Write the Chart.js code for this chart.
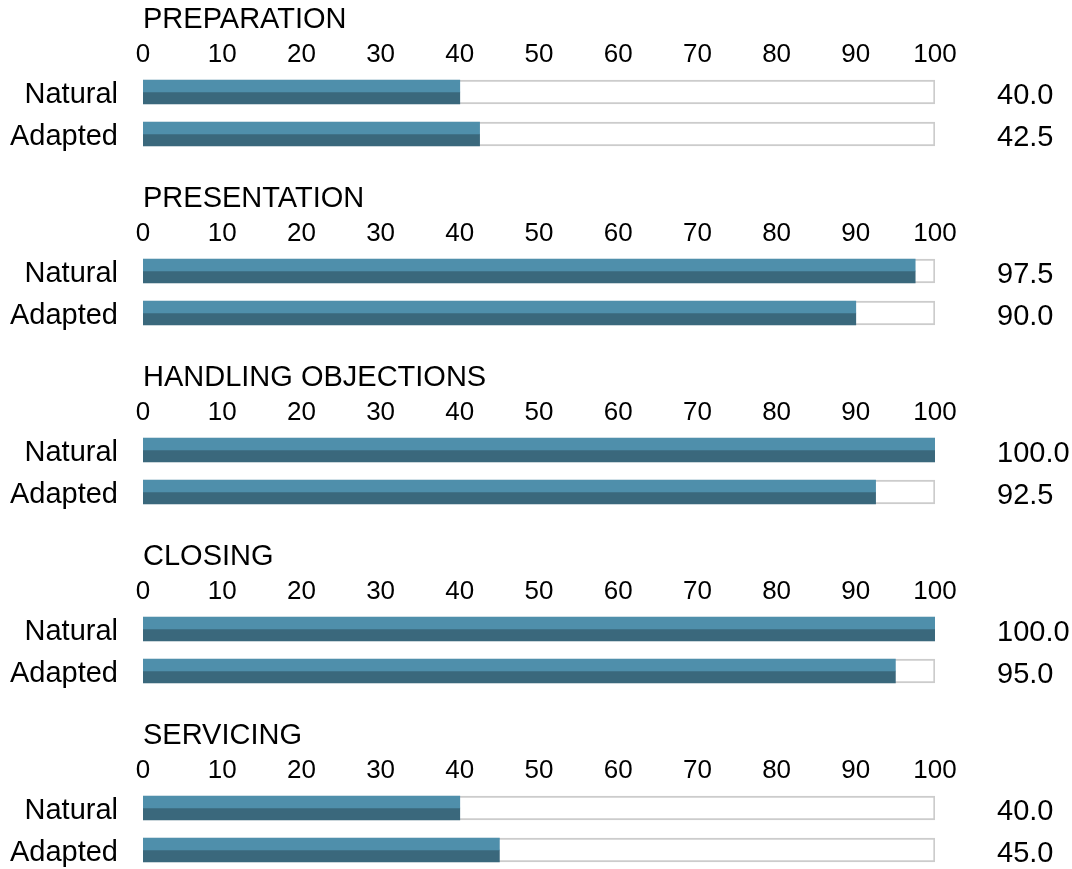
<!DOCTYPE html>
<html>
<head>
<meta charset="utf-8">
<script src="https://cdn.jsdelivr.net/npm/chart.js@4"></script>
<style>
    html, body { margin:0; padding:0; background:#ffffff; }
    #wrap { width:1072px; height:869px; overflow:hidden; }
    .panel { width:1072px; height:179px; }
    canvas { display:block; }
</style>
</head>
<body>
<div id="wrap"></div>

<script>
// Score data per selling stage
var sections = ["PREPARATION", "PRESENTATION", "HANDLING OBJECTIONS", "CLOSING", "SERVICING"];
var styles = ["Natural", "Adapted"];
var naturalScores = [40, 97.5, 100, 100, 40];
var adaptedScores = [42.5, 90, 92.5, 95, 45];
var scaleMin = 0;
var scaleMax = 100;
var scaleStep = 10;

var lightBlue = "#4f8fab";
var darkBlue = "#3a687c";
var trackGrey = "#cccccc";
var fontFamily = "'Liberation Sans', Arial, Helvetica, sans-serif";

Chart.defaults.font.family = fontFamily;
Chart.defaults.color = "#000000";

// fixed box sizes, and no extra label padding squeezing the plot
function fixWidth(w) {
    return function (scale) {
        scale.width = w;
        scale.paddingTop = 0;
        scale.paddingBottom = 0;
    };
}

function fixHeight(h) {
    return function (scale) {
        scale.height = h;
        scale.paddingLeft = 0;
        scale.paddingRight = 0;
    };
}

// ---------------------------
// One horizontal bar chart per stage
// ---------------------------

var wrap = document.getElementById("wrap");

for (var i = 0; i < sections.length; i++) {

    var panel = document.createElement("div");
    panel.className = "panel";
    var canvas = document.createElement("canvas");
    canvas.width = 1072;
    canvas.height = 179;
    panel.appendChild(canvas);
    wrap.appendChild(panel);

    var scores = [naturalScores[i], adaptedScores[i]];
    var valueLabels = [];
    for (var j = 0; j < scores.length; j++) {
        valueLabels.push(scores[j].toFixed(1));
    }

    new Chart(canvas, {

        type: "bar",

        data: {
            labels: styles,
            datasets: [
                {
                    // upper half of the bar
                    data: scores,
                    backgroundColor: lightBlue,
                    barThickness: 12,
                    order: 1
                },
                {
                    // lower half of the bar
                    data: scores,
                    backgroundColor: darkBlue,
                    barThickness: 12,
                    order: 1
                },
                {
                    // empty track up to the maximum
                    data: [scaleMax, scaleMax],
                    backgroundColor: "#ffffff",
                    borderColor: trackGrey,
                    borderWidth: 2,
                    borderSkipped: false,
                    barThickness: 24,
                    grouped: false,
                    order: 2
                }
            ]
        },

        options: {
            indexAxis: "y",
            responsive: false,
            animation: false,
            devicePixelRatio: 1,
            layout: {
                padding: { top: 0, bottom: 24, left: 0, right: 0 }
            },
            scales: {
                x: {
                    type: "linear",
                    position: "top",
                    min: scaleMin,
                    max: scaleMax,
                    grid: { display: false, drawTicks: false },
                    border: { display: false },
                    ticks: {
                        stepSize: scaleStep,
                        padding: 1,
                        font: { size: 26 },
                        color: "#000000"
                    },
                    title: {
                        display: true,
                        text: sections[i],
                        align: "start",
                        padding: { top: 3, bottom: 0 },
                        font: { size: 29 },
                        color: "#000000"
                    },
                    afterFit: fixHeight(71)
                },
                y: {
                    type: "category",
                    position: "left",
                    grid: { display: false, drawTicks: false },
                    border: { display: false },
                    ticks: {
                        autoSkip: false,
                        padding: 25,
                        labelOffset: 3,
                        font: { size: 29 },
                        color: "#000000"
                    },
                    afterFit: fixWidth(143)
                },
                values: {
                    type: "category",
                    axis: "y",
                    position: "right",
                    labels: valueLabels,
                    offset: true,
                    grid: { display: false, drawTicks: false },
                    border: { display: false },
                    ticks: {
                        autoSkip: false,
                        padding: 62,
                        labelOffset: 4,
                        font: { size: 29 },
                        color: "#000000"
                    },
                    afterFit: fixWidth(137)
                }
            },
            plugins: {
                legend: { display: false },
                tooltip: { enabled: false }
            }
        }

    });

}
</script>
</body>
</html>
